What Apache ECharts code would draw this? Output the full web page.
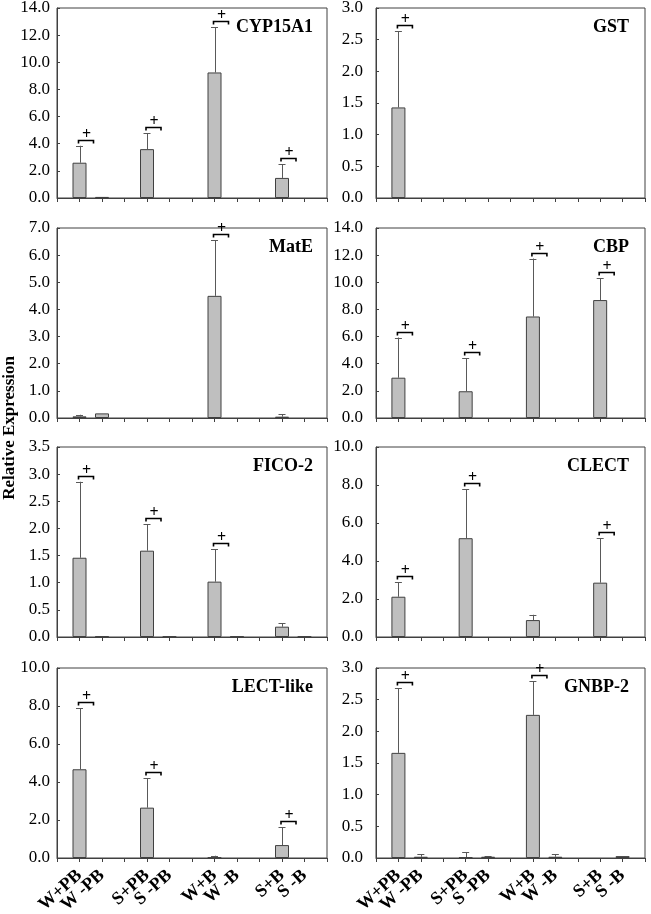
<!DOCTYPE html>
<html><head><meta charset="utf-8">
<script src="https://cdn.jsdelivr.net/npm/echarts@6/dist/echarts.min.js"></script>
<style>html,body{margin:0;padding:0;background:#fff}#c{width:651px;height:914px}</style>
</head><body><div id="c"></div>
<script>
// Tick labels of the x axis (blank entries are the gaps between groups)
const axisCategories = ['', 'W+PB', 'W -PB', '', 'S+PB', 'S -PB', '', 'W+B', 'W -B', '', 'S+B', 'S -B', ''];
const groups = ['W+PB', 'W -PB', 'S+PB', 'S -PB', 'W+B', 'W -B', 'S+B', 'S -B'];

const genes = ['CYP15A1', 'GST', 'MatE', 'CBP', 'FICO-2', 'CLECT', 'LECT-like', 'GNBP-2'];

const cypMean = [2.6, 0.08, 3.6, 0, 9.25, 0, 1.48, 0];
const cypSd   = [1.25, 0, 1.17, 0, 3.35, 0, 1.0, 0];
const cypSig  = [1, 0, 1, 0, 1, 0, 1, 0];

const gstMean = [1.43, 0, 0, 0, 0, 0, 0, 0];
const gstSd   = [1.2, 0, 0, 0, 0, 0, 0, 0];
const gstSig  = [1, 0, 0, 0, 0, 0, 0, 0];

const mateMean = [0.06, 0.17, 0, 0, 4.5, 0, 0.05, 0];
const mateSd   = [0.06, 0, 0, 0, 2.04, 0, 0.08, 0];
const mateSig  = [0, 0, 0, 0, 1, 0, 0, 0];

const cbpMean = [2.97, 0, 1.97, 0, 7.48, 0, 8.69, 0];
const cbpSd   = [2.96, 0, 2.42, 0, 4.27, 0, 1.61, 0];
const cbpSig  = [1, 0, 1, 0, 1, 0, 1, 0];

const ficoMean = [1.46, 0.01, 1.59, 0.01, 1.02, 0.01, 0.19, 0.01];
const ficoSd   = [1.4, 0, 0.49, 0, 0.6, 0, 0.06, 0];
const ficoSig  = [1, 0, 1, 0, 1, 0, 0, 0];

const clectMean = [2.12, 0, 5.2, 0, 0.89, 0, 2.86, 0];
const clectSd   = [0.77, 0, 2.57, 0, 0.28, 0, 2.33, 0];
const clectSig  = [1, 0, 1, 0, 0, 0, 1, 0];

const lectMean = [4.67, 0, 2.65, 0, 0.03, 0, 0.68, 0];
const lectSd   = [3.21, 0, 1.54, 0, 0.09, 0, 0.93, 0];
const lectSig  = [1, 0, 1, 0, 0, 0, 1, 0];

const gnbpMean = [1.66, 0.02, 0.01, 0.02, 2.26, 0.02, 0, 0.03];
const gnbpSd   = [1.02, 0.04, 0.08, 0.01, 0.53, 0.04, 0, 0];
const gnbpSig  = [1, 0, 0, 0, 1, 0, 0, 0];

const yMax      = [14, 3, 7, 14, 3.5, 10, 10, 3];
const yInterval = [2, 0.5, 1, 2, 0.5, 2, 2, 0.5];

const means = [cypMean, gstMean, mateMean, cbpMean, ficoMean, clectMean, lectMean, gnbpMean];
const sds   = [cypSd, gstSd, mateSd, cbpSd, ficoSd, clectSd, lectSd, gnbpSd];
const sigs  = [cypSig, gstSig, mateSig, cbpSig, ficoSig, clectSig, lectSig, gnbpSig];

// ---- layout ----
const colLeft = [57, 376], colWidth = [270, 269], labelMargin = [7, 13];
const rowTop = [8, 228, 447, 668], plotH = 190;
const serif = '"Liberation Serif","Times New Roman",serif';
const frame = '#404040';

function slotIndex(g) { return axisCategories.indexOf(groups[g]); }

const grids = [], xAxes = [], yAxes = [], series = [], titles = [];
genes.forEach((name, i) => {
  const col = i % 2, row = Math.floor(i / 2);
  grids.push({ left: colLeft[col], top: rowTop[row], width: colWidth[col], height: plotH,
    outerBoundsMode: 'none', containLabel: false,
    show: true, borderColor: frame, borderWidth: 1, backgroundColor: 'transparent' });
  xAxes.push({ type: 'category', gridIndex: i, data: axisCategories, boundaryGap: false,
    axisLine: { lineStyle: { color: frame, width: 1 } },
    axisTick: { show: true, interval: 0, length: 4, inside: false, lineStyle: { color: frame } },
    axisLabel: { show: row === 3, interval: 0, rotate: 42, margin: 15, fontFamily: serif,
      fontWeight: 'bold', fontSize: 18, color: '#000' },
    splitLine: { show: false } });
  yAxes.push({ type: 'value', gridIndex: i, min: 0, max: yMax[i], interval: yInterval[i],
    axisLine: { show: true, lineStyle: { color: frame } },
    axisTick: { show: true, inside: true, length: 3, lineStyle: { color: frame } },
    axisLabel: { margin: labelMargin[col], fontFamily: serif, fontSize: 17, color: '#000',
      formatter: v => v.toFixed(1) },
    splitLine: { show: false } });
  titles.push({ text: name, right: col === 0 ? 333 : 17, top: rowTop[row] + 5,
    textStyle: { fontFamily: serif, fontWeight: 'bold', fontSize: 18, color: '#000' } });

  const barData = axisCategories.map(() => '-');
  const errData = [], sigData = [];
  groups.forEach((g, k) => {
    const s = slotIndex(k);
    if (means[i][k] > 0) barData[s] = means[i][k];
    if (sds[i][k] > 0) errData.push([s, means[i][k], means[i][k] + sds[i][k]]);
    if (sigs[i][k]) sigData.push([s, means[i][k] + sds[i][k]]);
  });
  series.push({ type: 'bar', xAxisIndex: i, yAxisIndex: i, data: barData, barWidth: 14,
    itemStyle: { color: '#BFBFBF', borderColor: frame, borderWidth: 1 }, silent: true, animation: false });
  series.push({ type: 'custom', xAxisIndex: i, yAxisIndex: i, data: errData, animation: false, silent: true,
    encode: { x: 0, y: [1, 2] },
    renderItem: (params, api) => {
      const p0 = api.coord([api.value(0), api.value(1)]);
      const p1 = api.coord([api.value(0), api.value(2)]);
      const st = { stroke: '#595959', lineWidth: 1 };
      return { type: 'group', children: [
        { type: 'line', shape: { x1: Math.round(p0[0]) + 0.5, y1: p0[1], x2: Math.round(p0[0]) + 0.5, y2: p1[1] }, style: st },
        { type: 'line', shape: { x1: p1[0] - 3.5, y1: Math.round(p1[1]) + 0.5, x2: p1[0] + 3.5, y2: Math.round(p1[1]) + 0.5 }, style: st }
      ]};
    } });
  series.push({ type: 'custom', xAxisIndex: i, yAxisIndex: i, data: sigData, animation: false, silent: true,
    encode: { x: 0, y: 1 },
    renderItem: (params, api) => {
      const p = api.coord([api.value(0), api.value(1)]);
      const y = Math.round(p[1] - 6) + 0.5, x0 = p[0] - 1, x1 = p[0] + 14;
      const st = { stroke: '#000', lineWidth: 1.6, fill: null };
      return { type: 'group', children: [
        { type: 'polyline', shape: { points: [[x0, y + 3], [x0, y], [x1, y], [x1, y + 3]] }, style: st },
        { type: 'text', style: { text: '+', x: p[0] + 7, y: y - 6, align: 'center', verticalAlign: 'middle',
          font: 'bold 16px ' + serif, fill: '#000' } }
      ]};
    } });
});

const chart = echarts.init(document.getElementById('c'), null, { renderer: 'canvas' });
chart.setOption({
  animation: false,
  title: titles,
  grid: grids, xAxis: xAxes, yAxis: yAxes, series: series,
  graphic: [{ type: 'text', left: 1, top: 356, rotation: Math.PI / 2,
    style: { text: 'Relative Expression', font: 'bold 17px ' + serif, fill: '#000' } }]
});
</script></body></html>
